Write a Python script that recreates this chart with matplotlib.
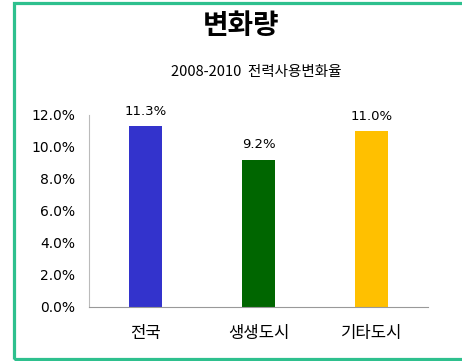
import matplotlib.pyplot as plt
from matplotlib.patches import Rectangle
from matplotlib.ticker import PercentFormatter

plt.rcParams['font.family'] = ['DejaVu Sans', 'Noto Sans CJK KR']

categories = ['전국', '생생도시', '기타도시']
change_rate = [11.3, 9.2, 11.0]
bar_colors = ['#3333CC', '#006600', '#FFC000']
yticks = [0, 2, 4, 6, 8, 10, 12]

fig = plt.figure(figsize=(4.62, 3.61), dpi=100)

# green frame around the panel (right side runs off the canvas)
W, H = 462, 361
frame = Rectangle((13.5 / W, 2.5 / H), 460 / W, 355.5 / H, transform=fig.transFigure,
                  fill=False, edgecolor='#2EC08E', linewidth=2.3, clip_on=False)
fig.patches.append(frame)

fig.text(241 / W, 1 - 26 / H, '변화량', ha='center', va='center',
         fontsize=20, fontweight='bold', family=['Noto Sans CJK KR'])
fig.text(256 / W, 1 - 72 / H, '2008-2010  전력사용변화율', ha='center', va='center',
         fontsize=10.5, family=['Noto Sans CJK KR'])

ax = fig.add_axes([89 / W, 54 / H, 339 / W, 192 / H])
x = range(len(categories))
bars = ax.bar(x, change_rate, width=0.29, color=bar_colors)

for b, v in zip(bars, change_rate):
    ax.annotate(f'{v:.1f}%', (b.get_x() + b.get_width() / 2, v),
                xytext=(0, 6), textcoords='offset points',
                ha='center', va='bottom', fontsize=9.5)

ax.set_xlim(-0.5, 2.5)
ax.set_ylim(0, 12)
ax.set_yticks(yticks)
ax.yaxis.set_major_formatter(PercentFormatter(decimals=1))
ax.set_xticks(list(x))
ax.set_xticklabels(categories, family=['Noto Sans CJK KR'], fontsize=12)
ax.tick_params(axis='y', length=0, pad=10, labelsize=10)
ax.tick_params(axis='x', length=0, pad=13)

for s in ['top', 'right']:
    ax.spines[s].set_visible(False)
ax.spines['left'].set_color('#BBBBBB')
ax.spines['bottom'].set_color('#999999')
ax.spines['left'].set_linewidth(0.8)
ax.spines['bottom'].set_linewidth(0.8)

fig.savefig('out.png', dpi=100)
